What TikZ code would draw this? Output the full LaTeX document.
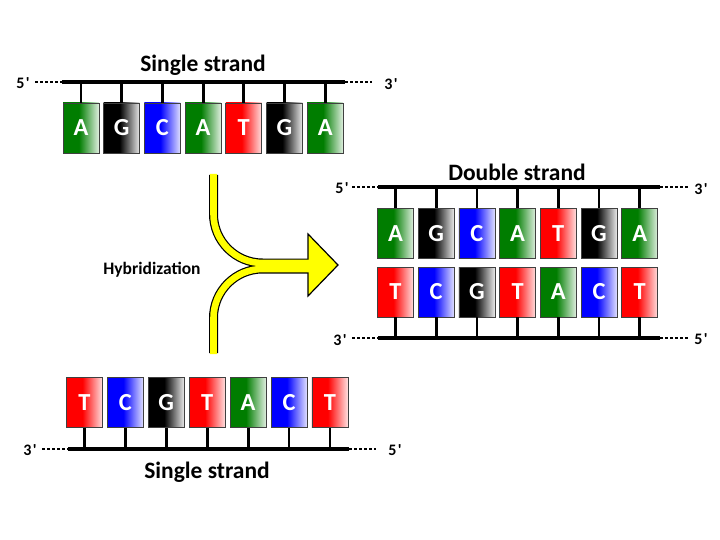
\documentclass[tikz,border=0pt]{standalone}
\usepackage{fontspec}
\setmainfont{Carlito}
\definecolor{nA}{RGB}{0,125,0}
\definecolor{nG}{RGB}{0,0,0}
\definecolor{nC}{RGB}{0,0,255}
\definecolor{nT}{RGB}{255,0,0}
\definecolor{arrowyellow}{RGB}{255,255,0}
\pgfdeclarehorizontalshading{shA}{100bp}{color(0bp)=(nA); color(25bp)=(nA); color(47bp)=(nA); color(75bp)=(nA!12!white); color(100bp)=(nA!12!white)}
\pgfdeclarehorizontalshading{shG}{100bp}{color(0bp)=(nG); color(25bp)=(nG); color(47bp)=(nG); color(75bp)=(nG!8!white); color(100bp)=(nG!8!white)}
\pgfdeclarehorizontalshading{shC}{100bp}{color(0bp)=(nC); color(25bp)=(nC); color(47bp)=(nC); color(75bp)=(nC!12!white); color(100bp)=(nC!12!white)}
\pgfdeclarehorizontalshading{shT}{100bp}{color(0bp)=(nT); color(25bp)=(nT); color(47bp)=(nT); color(75bp)=(nT!12!white); color(100bp)=(nT!12!white)}
\newcommand{\primemark}{\kern1.5pt\textquotesingle}
\tikzset{
  base/.style={rectangle, minimum width=36pt, minimum height=50pt, inner sep=0pt,
    draw=black!75, line width=0.7pt, text=white, font=\fontsize{24.5}{24.5}\selectfont\bfseries},
  bA/.style={base, shading=shA},
  bG/.style={base, shading=shG},
  bC/.style={base, shading=shC},
  bT/.style={base, shading=shT},
  backbone/.style={line width=4pt},
  stem/.style={line width=2.8pt},
  dots/.style={line width=2.8pt, dash pattern=on 2.6pt off 2.4pt},
  endlabel/.style={font=\fontsize{16}{16}\selectfont\bfseries, inner sep=0pt},
  title/.style={font=\fontsize{23.5}{24}\selectfont\bfseries, inner sep=0pt},
  hyb/.style={font=\fontsize{17.5}{17.5}\selectfont\bfseries, inner sep=0pt},
  tubeout/.style={line width=9pt, draw=black},
  tubein/.style={line width=6.6pt, draw=arrowyellow},
}
\begin{document}
\begin{tikzpicture}[x=1pt,y=-1pt]
\useasboundingbox (0,0) rectangle (720,540);

% ---------- top single strand ----------
\node[title] (t1title) at (203,65) {Single strand};
\coordinate (a1) at (62,82);
\coordinate (a2) at (345,82);
\coordinate (a0) at (35,82);
\coordinate (a3) at (372,82);
\node[endlabel] (a5lab) at (23,83) {5\primemark};
\node[endlabel] (a3lab) at (391,84) {3\primemark};
\draw[dots] (a0) -- (a1);
\draw[dots] (a2) -- (a3);
\draw[backbone] (a1) -- (a2);
\foreach \b [count=\i] in {A,G,C,A,T,G,A} {
  \node[b\b] (s\i) at ({81+40.7*(\i-1)},128) {\raisebox{-3pt}{\b}};
  \draw[stem] (s\i.north) -- (s\i.north |- a1);
}

% ---------- double strand ----------
\node[title] (dtitle) at (517,172) {Double strand};
\coordinate (d1) at (378,187);
\coordinate (d2) at (660,187);
\coordinate (d0) at (352,187);
\coordinate (d3) at (688,187);
\coordinate (e1) at (378,338);
\coordinate (e2) at (660,338);
\coordinate (e0) at (352,338);
\coordinate (e3) at (688,338);
\node[endlabel] (d5lab) at (342,188) {5\primemark};
\node[endlabel] (d3lab) at (701,189) {3\primemark};
\node[endlabel] (e3lab) at (340,340) {3\primemark};
\node[endlabel] (e5lab) at (701,339) {5\primemark};
\draw[dots] (d0) -- (d1);
\draw[dots] (d2) -- (d3);
\draw[dots] (e0) -- (e1);
\draw[dots] (e2) -- (e3);
\draw[backbone] (d1) -- (d2);
\draw[backbone] (e1) -- (e2);
\foreach \b [count=\i] in {A,G,C,A,T,G,A} {
  \node[b\b] (u\i) at ({395.5+40.7*(\i-1)},233.5) {\raisebox{-3pt}{\b}};
  \draw[stem] (u\i.north) -- (u\i.north |- d1);
}
\foreach \b [count=\i] in {T,C,G,T,A,C,T} {
  \node[b\b] (l\i) at ({395.5+40.7*(\i-1)},292) {\raisebox{-3pt}{\b}};
  \draw[stem] (l\i.south) -- (l\i.south |- e1);
}

% ---------- bottom single strand ----------
\node[title] (b1title) at (207,472) {Single strand};
\coordinate (c1) at (68,449);
\coordinate (c2) at (349,449);
\coordinate (c0) at (42,449);
\coordinate (c3) at (376,449);
\node[endlabel] (c3lab) at (30,450) {3\primemark};
\node[endlabel] (c5lab) at (395,450) {5\primemark};
\draw[dots] (c0) -- (c1);
\draw[dots] (c2) -- (c3);
\draw[backbone] (c1) -- (c2);
\foreach \b [count=\i] in {T,C,G,T,A,C,T} {
  \node[b\b] (w\i) at ({84.5+40.9*(\i-1)},402.5) {\raisebox{-3pt}{\b}};
  \draw[stem] (w\i.south) -- (w\i.south |- c1);
}

% ---------- hybridization arrow ----------
\node[hyb] (hyb) at (152,270) {Hybridization};
\coordinate (ptop) at (213.5,175);
\coordinate (pbot) at (213.5,353);
\draw[tubeout] (ptop) -- (213.5,214) arc[start angle=180, end angle=90, radius=49] -- (312,263);
\draw[tubeout] (pbot) -- (213.5,318) arc[start angle=180, end angle=270, radius=49] -- (312,269);
\filldraw[fill=arrowyellow, draw=black, line width=1.2pt, line join=miter]
  (308,234) -- (338,265) -- (308,296) -- cycle;
\draw[tubein, line cap=butt] ([yshift=1.2pt]ptop) -- (213.5,214) arc[start angle=180, end angle=90, radius=49] -- (313,263);
\draw[tubein, line cap=butt] ([yshift=-1.2pt]pbot) -- (213.5,318) arc[start angle=180, end angle=270, radius=49] -- (313,269);
\end{tikzpicture}
\end{document}
